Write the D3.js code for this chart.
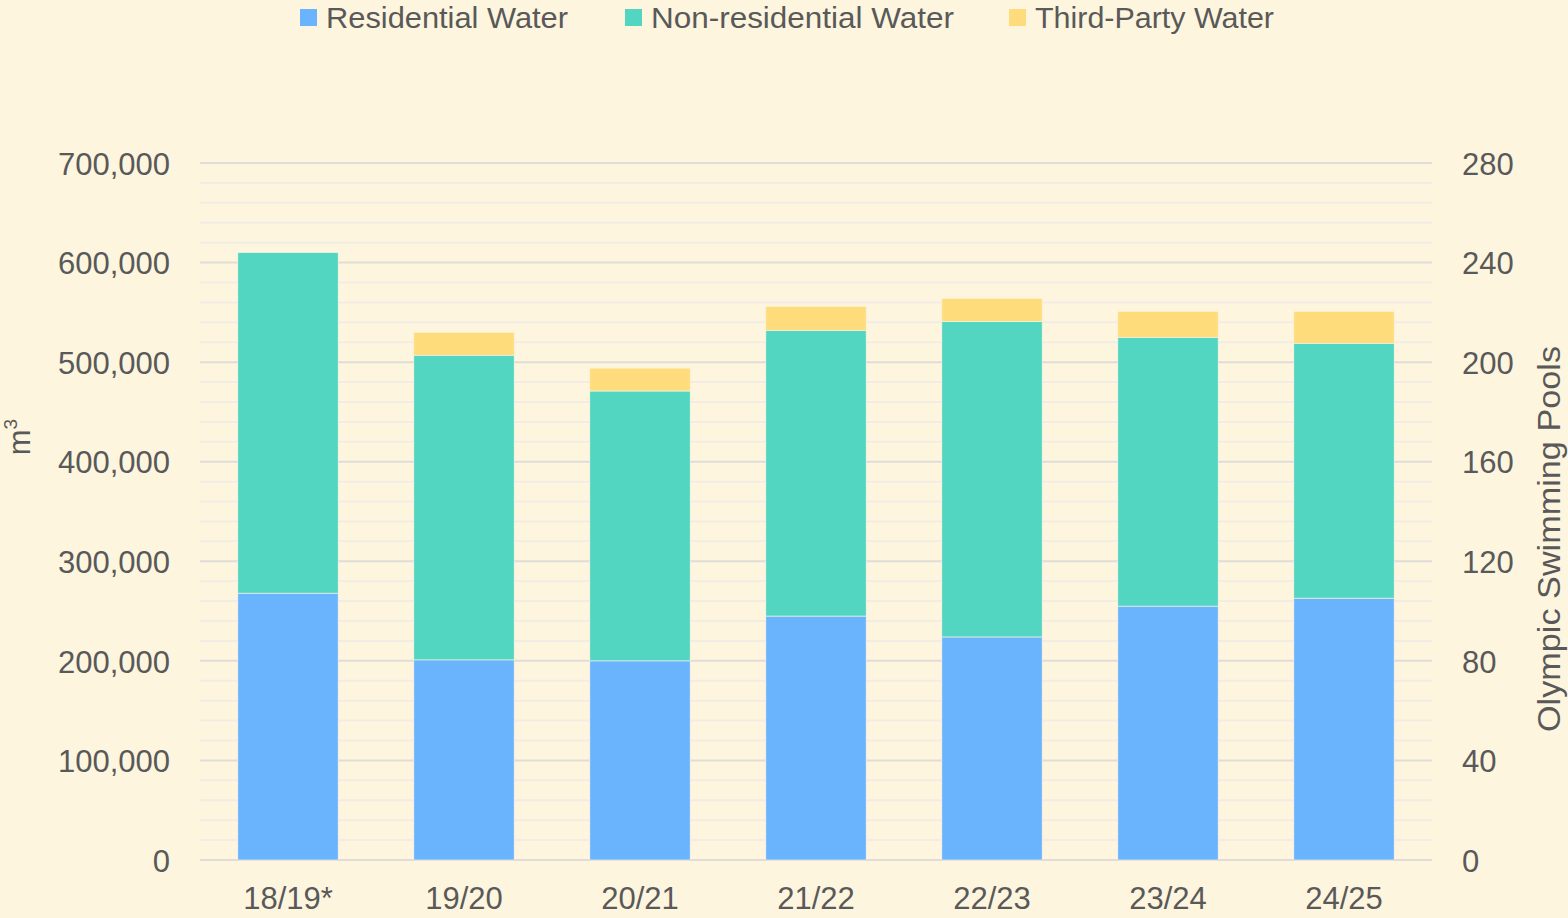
<!DOCTYPE html>
<html>
<head>
<meta charset="utf-8">
<script src="https://cdn.jsdelivr.net/npm/d3@7"></script>
<style>
  body { margin: 0; background: #fef5df; }
  text { font-family: "Liberation Sans", Arial, sans-serif; fill: #595959; }
</style>
</head>
<body>
<div id="chart"></div>
<script>
// data
var years = ["18/19*", "19/20", "20/21", "21/22", "22/23", "23/24", "24/25"];
var residential = [268000, 201000, 200000, 245000, 224000, 255000, 263000];
var nonResidential = [342000, 306000, 271000, 287000, 317000, 270000, 256000];
var thirdParty = [0, 23000, 23000, 24000, 23000, 26000, 32000];
var seriesNames = ["Residential Water", "Non-residential Water", "Third-Party Water"];
var leftTicks = [0, 100000, 200000, 300000, 400000, 500000, 600000, 700000];
var rightTicks = [0, 40, 80, 120, 160, 200, 240, 280];
var poolVolume = 2500; // m3 per olympic pool

var svgWidth = 1568;
var svgHeight = 918;
var margin = { top: 163, right: 136, bottom: 58, left: 200 };
var width = svgWidth - margin.left - margin.right;
var height = svgHeight - margin.top - margin.bottom;

var colors = ["#6ab4fe", "#52d6c1", "#fedc7c"];

var svg = d3.select("#chart")
    .append("svg")
    .attr("width", svgWidth)
    .attr("height", svgHeight);

svg.append("rect")
    .attr("width", svgWidth)
    .attr("height", svgHeight)
    .attr("fill", "#fef5df");

var chartGroup = svg.append("g")
    .attr("transform", `translate(${margin.left}, ${margin.top})`);

var xScale = d3.scaleBand()
    .domain(years)
    .range([0, width])
    .paddingInner(0.43)
    .paddingOuter(0.215);

var yScale = d3.scaleLinear()
    .domain([0, 700000])
    .range([height, 0]);

var yRight = d3.scaleLinear()
    .domain([0, 700000 / poolVolume])
    .range([height, 0]);

// minor gridlines every 20k
var minor = d3.range(20000, 700000, 20000).filter(v => v % 100000 !== 0);
chartGroup.selectAll(".minor")
    .data(minor)
    .enter()
    .append("line")
    .attr("x1", 0)
    .attr("x2", width)
    .attr("y1", d => yScale(d))
    .attr("y2", d => yScale(d))
    .attr("stroke", "#f1ede4")
    .attr("stroke-width", 2);

chartGroup.selectAll(".major")
    .data(leftTicks)
    .enter()
    .append("line")
    .attr("x1", 0)
    .attr("x2", width)
    .attr("y1", d => yScale(d))
    .attr("y2", d => yScale(d))
    .attr("stroke", "#e0ddd8")
    .attr("stroke-width", 2);

// stacked bars
var rows = years.map(function(y, i) {
    return { year: y, r: residential[i], n: nonResidential[i], t: thirdParty[i] };
});
var stack = d3.stack().keys(["r", "n", "t"])(rows);

chartGroup.selectAll(".series")
    .data(stack)
    .enter()
    .append("g")
    .attr("fill", (d, i) => colors[i])
    .selectAll("rect")
    .data(d => d.filter(p => p[1] > p[0]))
    .enter()
    .append("rect")
    .attr("x", d => xScale(d.data.year))
    .attr("y", d => yScale(d[1]))
    .attr("width", xScale.bandwidth())
    .attr("height", d => yScale(d[0]) - yScale(d[1]))
    .attr("stroke", "#fef5df")
    .attr("stroke-width", 0.6);

// axes
var leftAxis = d3.axisLeft(yScale)
    .tickValues(leftTicks)
    .tickFormat(d3.format(","))
    .tickSize(0)
    .tickPadding(30);

var rightAxis = d3.axisRight(yRight)
    .tickValues(rightTicks)
    .tickSize(0)
    .tickPadding(30);

var bottomAxis = d3.axisBottom(xScale)
    .tickSize(0)
    .tickPadding(27);

var gl = chartGroup.append("g").call(leftAxis);
var gr = chartGroup.append("g").attr("transform", `translate(${width}, 0)`).call(rightAxis);
var gb = chartGroup.append("g").attr("transform", `translate(0, ${height})`).call(bottomAxis);

[gl, gr, gb].forEach(function(g) {
    g.select(".domain").remove();
    g.selectAll("text")
        .attr("font-size", 31)
        .attr("font-family", "Liberation Sans, Arial, sans-serif")
        .attr("fill", "#595959");
});
gl.selectAll("text").attr("dy", "0.36em");
gr.selectAll("text").attr("dy", "0.36em");

// axis titles
var leftTitle = svg.append("text")
    .attr("transform", "translate(30, 437) rotate(-90)")
    .attr("text-anchor", "middle")
    .attr("font-size", 31);
leftTitle.append("tspan").text("m");
leftTitle.append("tspan").attr("font-size", 19).attr("dy", -13).text("3");

svg.append("text")
    .attr("transform", "translate(1560, 539) rotate(-90)")
    .attr("text-anchor", "middle")
    .attr("font-size", 31)
    .attr("textLength", 386)
    .attr("lengthAdjust", "spacingAndGlyphs")
    .text("Olympic Swimming Pools");

// legend
var legendX = [300, 625, 1009];
var legendLen = [242, 303, 239];
var legend = svg.selectAll(".legend")
    .data(seriesNames)
    .enter()
    .append("g")
    .attr("transform", (d, i) => `translate(${legendX[i]}, 0)`);

legend.append("rect")
    .attr("x", 0)
    .attr("y", 9)
    .attr("width", 17)
    .attr("height", 17)
    .attr("fill", (d, i) => colors[i]);

legend.append("text")
    .attr("x", 26)
    .attr("y", 28)
    .attr("font-size", 29)
    .attr("textLength", (d, i) => legendLen[i])
    .attr("lengthAdjust", "spacingAndGlyphs")
    .text(d => d);
</script>
</body>
</html>
